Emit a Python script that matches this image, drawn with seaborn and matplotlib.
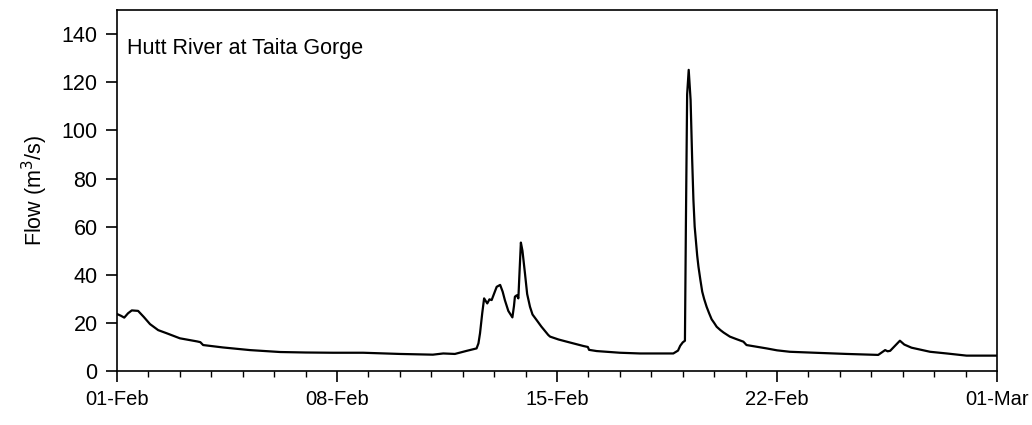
import pandas as pd
import numpy as np
import matplotlib
matplotlib.use("Agg")
import matplotlib.pyplot as plt
import matplotlib.dates as mdates
import seaborn as sns

sns.set_style("white")
plt.rcParams["font.family"] = ["Liberation Sans Narrow", "Liberation Sans", "DejaVu Sans"]
plt.rcParams["text.color"] = "black"
plt.rcParams["axes.labelcolor"] = "black"
plt.rcParams["xtick.color"] = "black"
plt.rcParams["ytick.color"] = "black"

# Caudal (días desde 01-Feb, m3/s)
dias = [0.00, 0.12, 0.23, 0.35, 0.47, 0.67, 0.85, 1.05, 1.31, 1.58, 2.00, 2.55, 2.65, 2.74,
        3.37, 4.23, 5.19, 6.00, 6.87, 7.83, 9.00, 10.05, 10.38, 10.75, 11.13, 11.44, 11.50,
        11.55, 11.62, 11.68, 11.78, 11.85, 11.92, 12.08, 12.19, 12.27, 12.34, 12.45, 12.58,
        12.63, 12.66, 12.72, 12.77, 12.81, 12.85, 12.90, 12.98, 13.05, 13.14, 13.22, 13.35,
        13.50, 13.72, 13.78, 14.05, 14.31, 14.84, 14.98, 15.02, 15.26, 16.00, 16.64, 17.70,
        17.85, 17.92, 18.00, 18.07, 18.10, 18.14, 18.19, 18.25, 18.30, 18.34, 18.38, 18.42,
        18.46, 18.50, 18.56, 18.62, 18.68, 18.76, 18.84, 18.92, 19.00, 19.08, 19.20, 19.30,
        19.50, 19.70, 19.93, 20.03, 20.67, 21.00, 21.41, 22.20, 23.22, 24.22, 24.44, 24.52,
        24.60, 24.91, 25.05, 25.28, 25.87, 26.40, 27.03, 28.00]
caudal = [23.7, 23.0, 22.2, 24.0, 25.2, 25.0, 22.5, 19.5, 17.0, 15.7, 13.6, 12.3, 12.0, 10.8,
          9.8, 8.7, 7.9, 7.7, 7.6, 7.6, 7.1, 6.8, 7.3, 7.1, 8.4, 9.4, 11.5,
          15.7, 24.0, 30.2, 28.1, 29.8, 29.5, 35.0, 35.8, 33.0, 29.5, 25.0, 22.3,
          27.0, 30.9, 31.5, 30.2, 42.0, 53.4, 50.0, 40.6, 32.0, 26.7, 23.5, 21.2,
          18.5, 15.0, 14.3, 13.1, 12.2, 10.4, 10.0, 8.8, 8.3, 7.6, 7.3, 7.3,
          8.5, 10.5, 11.9, 12.6, 60.0, 115.0, 125.2, 112.7, 88.0, 71.1, 60.0, 54.0,
          48.0, 43.4, 38.0, 33.0, 30.0, 26.7, 24.0, 21.5, 20.0, 18.4, 17.0, 16.0,
          14.3, 13.3, 12.2, 10.8, 9.4, 8.6, 8.0, 7.6, 7.1, 6.7, 8.7, 8.2,
          8.4, 12.6, 11.0, 9.7, 8.0, 7.3, 6.4, 6.4]

inicio = pd.Timestamp("2013-02-01")
df = pd.DataFrame({
    "fecha": inicio + pd.to_timedelta(dias, unit="D"),
    "caudal": caudal,
})

fig = plt.figure(figsize=(10.32, 4.25), dpi=100)
ax = fig.add_axes([0.1134, 0.127, 0.8527, 0.849])

sns.lineplot(data=df, x="fecha", y="caudal", ax=ax, color="black", linewidth=1.6)

ax.set_xlim(inicio, pd.Timestamp("2013-03-01"))
ax.set_ylim(0, 150)
ax.set_yticks(range(0, 141, 20))
ax.xaxis.set_major_locator(mdates.DayLocator(bymonthday=[1, 8, 15, 22]))
ax.xaxis.set_minor_locator(mdates.DayLocator())
ax.xaxis.set_major_formatter(mdates.DateFormatter("%d-%b"))

ax.tick_params(axis="both", which="major", direction="out", length=8, width=1.2, pad=6)
ax.tick_params(axis="y", labelsize=15.5)
ax.tick_params(axis="x", labelsize=14.5)
ax.tick_params(axis="x", which="minor", direction="out", length=4, width=1.0)
ax.tick_params(bottom=True, left=True, which="both")
ax.tick_params(axis="y", which="minor", left=False)

for s in ax.spines.values():
    s.set_color("black")
    s.set_linewidth(1.2)

ax.set_xlabel("")
ax.set_ylabel("Flow (m$^3$/s)", fontsize=15.5, labelpad=8)
ax.text(0.011, 0.895, "Hutt River at Taita Gorge", transform=ax.transAxes,
        fontsize=15.5, va="center", ha="left")

fig.savefig("out.png", dpi=100)
